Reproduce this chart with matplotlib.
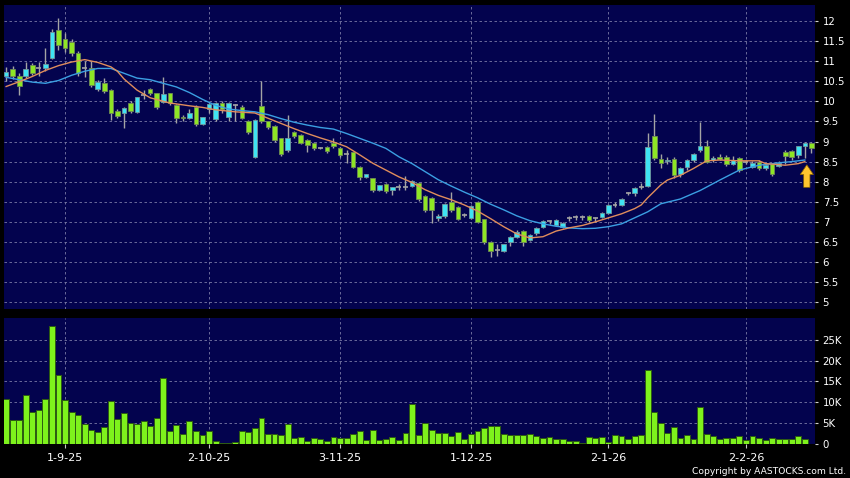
import numpy as np
import matplotlib.pyplot as plt
from matplotlib.ticker import FuncFormatter

# daily OHLC (bar index 0 = first visible session)
opens = [10.63, 10.80, 10.63, 10.63, 10.90, 10.83, 10.83, 11.08, 11.78, 11.55,
         11.48, 11.20, 10.83, 10.83, 10.30, 10.46, 10.28, 9.76, 9.71, 9.96,
         9.73, 10.16, 10.30, 10.20, 9.98, 10.20, 9.90, 9.62, 9.58, 9.86,
         9.43, 9.80, 9.56, 9.96, 9.60, 9.90, 9.86, 9.50, 8.61, 9.88,
         9.50, 9.38, 9.08, 8.79, 9.23, 9.16, 9.03, 8.96, 8.84, 8.86,
         8.96, 8.84, 8.70, 8.74, 8.36, 8.11, 8.09, 7.79, 7.94, 7.79,
         7.86, 7.86, 7.89, 7.96, 7.64, 7.59, 7.09, 7.14, 7.49, 7.37,
         7.17, 7.09, 7.49, 7.07, 6.49, 6.29, 6.27, 6.49, 6.62, 6.77,
         6.54, 6.72, 6.87, 7.02, 6.92, 6.87, 7.10, 7.12, 7.12, 7.14,
         7.10, 7.12, 7.22, 7.42, 7.42, 7.72, 7.72, 7.86, 7.89, 9.14,
         8.57, 8.51, 8.57, 8.20, 8.37, 8.53, 8.78, 8.89, 8.53, 8.62,
         8.62, 8.45, 8.58, 8.50, 8.37, 8.50, 8.33, 8.43, 8.39, 8.74,
         8.77, 8.66, 8.88, 8.97]
highs = [10.85, 10.88, 10.70, 10.98, 10.95, 10.98, 11.33, 11.81, 12.07, 11.70,
         11.55, 11.25, 11.00, 11.00, 10.52, 10.58, 10.30, 9.80, 9.86, 10.00,
         10.12, 10.28, 10.33, 10.22, 10.60, 10.22, 9.93, 9.66, 9.80, 9.90,
         9.62, 9.95, 9.98, 10.00, 9.98, 9.93, 9.92, 9.53, 9.55, 10.50,
         9.52, 9.40, 9.10, 9.66, 9.26, 9.20, 9.06, 8.98, 8.86, 8.88,
         9.10, 8.86, 8.78, 8.75, 8.38, 8.20, 8.10, 7.93, 7.96, 7.88,
         7.95, 8.15, 8.05, 8.00, 7.66, 7.62, 7.20, 7.46, 7.74, 7.40,
         7.22, 7.42, 7.52, 7.08, 6.52, 6.45, 6.46, 6.64, 6.80, 6.80,
         6.70, 6.88, 7.04, 7.05, 7.06, 7.00, 7.15, 7.18, 7.16, 7.17,
         7.13, 7.24, 7.44, 7.50, 7.60, 7.75, 7.86, 7.98, 9.21, 9.68,
         8.70, 8.62, 8.62, 8.36, 8.56, 8.72, 9.49, 9.03, 8.64, 8.70,
         8.66, 8.65, 8.62, 8.55, 8.52, 8.55, 8.45, 8.46, 8.52, 8.78,
         8.80, 8.90, 8.99, 8.99]
lows = [10.50, 10.55, 10.16, 10.58, 10.65, 10.62, 10.75, 11.05, 11.28, 11.22,
        11.12, 10.62, 10.60, 10.35, 10.25, 10.20, 9.53, 9.58, 9.33, 9.70,
        9.70, 10.05, 10.15, 9.80, 9.95, 9.90, 9.45, 9.52, 9.55, 9.38,
        9.40, 9.72, 9.50, 9.70, 9.52, 9.52, 9.55, 9.20, 8.60, 9.45,
        9.30, 9.00, 8.65, 8.75, 9.10, 8.93, 8.75, 8.80, 8.82, 8.72,
        8.85, 8.62, 8.46, 8.33, 8.05, 8.08, 7.75, 7.76, 7.72, 7.68,
        7.80, 7.80, 7.86, 7.52, 7.25, 6.98, 7.02, 7.10, 7.25, 7.05,
        7.12, 7.06, 6.98, 6.45, 6.12, 6.15, 6.25, 6.40, 6.60, 6.40,
        6.52, 6.68, 6.85, 6.95, 6.90, 6.85, 7.02, 7.05, 7.04, 7.00,
        7.00, 7.10, 7.20, 7.38, 7.40, 7.68, 7.65, 7.82, 7.87, 8.55,
        8.35, 8.45, 8.08, 8.12, 8.30, 8.50, 8.75, 8.46, 8.50, 8.54,
        8.40, 8.42, 8.25, 8.45, 8.34, 8.30, 8.30, 8.14, 8.36, 8.45,
        8.55, 8.60, 8.58, 8.72]
closes = [10.74, 10.63, 10.38, 10.80, 10.70, 10.83, 10.92, 11.73, 11.40, 11.33,
          11.20, 10.70, 10.83, 10.40, 10.48, 10.26, 9.71, 9.63, 9.83, 9.76,
          10.10, 10.16, 10.20, 9.86, 10.18, 9.95, 9.58, 9.58, 9.70, 9.43,
          9.60, 9.93, 9.96, 9.80, 9.96, 9.90, 9.58, 9.23, 9.53, 9.50,
          9.36, 9.03, 8.69, 9.10, 9.13, 8.96, 8.91, 8.84, 8.84, 8.76,
          8.88, 8.66, 8.70, 8.36, 8.11, 8.18, 7.79, 7.91, 7.76, 7.86,
          7.86, 7.86, 8.01, 7.56, 7.29, 7.29, 7.14, 7.44, 7.29, 7.07,
          7.17, 7.39, 7.00, 6.49, 6.27, 6.29, 6.44, 6.62, 6.74, 6.49,
          6.67, 6.84, 7.02, 7.02, 7.04, 6.97, 7.10, 7.12, 7.12, 7.04,
          7.10, 7.22, 7.42, 7.42, 7.58, 7.72, 7.84, 7.86, 8.86, 8.58,
          8.46, 8.55, 8.16, 8.33, 8.53, 8.68, 8.89, 8.49, 8.60, 8.57,
          8.44, 8.55, 8.29, 8.50, 8.47, 8.33, 8.41, 8.19, 8.47, 8.64,
          8.62, 8.88, 8.97, 8.83]

# turnover in thousands (last session has no bar yet)
volume_k = [10.9, 5.7, 5.7, 11.7, 7.7, 8.1, 10.7, 28.4, 16.6, 10.5,
            7.7, 6.9, 4.9, 3.3, 2.8, 4.1, 10.2, 5.9, 7.4, 5.1,
            4.7, 5.4, 4.2, 6.2, 15.7, 3.1, 4.6, 2.5, 5.5, 3.2,
            2.2, 3.1, 0.6, 0.3, 0.3, 0.5, 3.2, 2.8, 3.9, 6.2,
            2.4, 2.3, 2.1, 4.8, 1.4, 1.6, 0.7, 1.5, 1.1, 0.8,
            1.7, 1.4, 1.4, 2.5, 3.1, 0.9, 3.3, 0.9, 1.2, 1.6,
            0.9, 2.7, 9.7, 2.2, 5.1, 3.4, 2.6, 2.7, 1.8, 2.8,
            1.3, 2.3, 3.0, 3.9, 4.3, 4.3, 2.3, 2.1, 2.1, 2.2,
            2.5, 2.0, 1.4, 1.6, 1.3, 1.1, 0.7, 0.6, 0.2, 1.7,
            1.4, 1.7, 0.5, 2.2, 1.9, 1.3, 1.9, 2.2, 17.8, 7.7,
            5.0, 2.6, 4.1, 1.4, 2.2, 1.2, 8.9, 2.5, 2.0, 1.1,
            1.5, 1.5, 1.9, 1.0, 1.8, 1.5, 1.0, 1.5, 1.1, 1.1,
            1.2, 1.9, 1.2]

# moving averages as drawn on the chart
ma_short_x = [0, 2, 4, 6, 8, 10, 12, 14, 16, 17, 18, 20, 22, 25, 28, 30, 32, 35,
              38, 40, 42, 44, 46, 48, 50, 52, 54, 56, 58, 60, 62, 64, 66, 68, 70,
              72, 74, 76, 78, 80, 82, 84, 86, 88, 90, 92, 94, 96, 97, 98, 100, 101,
              103, 105, 107, 109, 112, 115, 116, 119, 121, 122]
ma_short = [10.37, 10.49, 10.62, 10.77, 10.89, 10.98, 11.04, 10.97, 10.86, 10.75,
            10.56, 10.28, 10.09, 9.96, 9.89, 9.85, 9.79, 9.74, 9.71, 9.58,
            9.45, 9.32, 9.20, 9.09, 8.99, 8.87, 8.67, 8.46, 8.29, 8.12,
            7.98, 7.80, 7.66, 7.55, 7.42, 7.27, 7.08, 6.88, 6.70, 6.60,
            6.63, 6.77, 6.85, 6.91, 7.00, 7.10, 7.20, 7.33, 7.42, 7.60,
            7.92, 8.04, 8.16, 8.33, 8.52, 8.54, 8.52, 8.52, 8.45, 8.41,
            8.45, 8.50]
ma_long_x = [0, 2, 4, 6, 8, 10, 12, 14, 16, 18, 20, 22, 24, 26, 28, 30, 32, 34,
             36, 38, 40, 42, 44, 46, 48, 50, 52, 54, 56, 58, 60, 62, 64, 66, 68,
             70, 72, 74, 76, 78, 80, 82, 84, 86, 88, 90, 92, 94, 96, 98, 100, 103,
             106, 109, 112, 115, 118, 120, 122]
ma_long = [10.60, 10.54, 10.48, 10.45, 10.52, 10.65, 10.75, 10.82, 10.82, 10.70,
           10.58, 10.54, 10.45, 10.36, 10.22, 10.05, 9.90, 9.81, 9.77, 9.74,
           9.67, 9.57, 9.48, 9.41, 9.35, 9.31, 9.20, 9.08, 8.96, 8.83,
           8.62, 8.45, 8.25, 8.05, 7.89, 7.74, 7.60, 7.44, 7.30, 7.15,
           7.03, 6.95, 6.89, 6.85, 6.83, 6.84, 6.88, 6.95, 7.10, 7.25,
           7.45, 7.57, 7.78, 8.04, 8.29, 8.41, 8.47, 8.50, 8.54]

tick_idx = [9, 31, 51, 71, 92, 113]
tick_labels = ['1-9-25', '2-10-25', '3-11-25', '1-12-25', '2-1-26', '2-2-26']

NAVY = '#03034e'
GRID = '#7a7aa6'
UP = '#3fe3f3'
DOWN = '#8ee625'

o = np.array(opens)
h = np.array(highs)
l = np.array(lows)
c = np.array(closes)
x = np.arange(len(o))

fig = plt.figure(figsize=(8.5, 4.78), dpi=100, facecolor='black')
ax = fig.add_axes([3.5 / 850, 1 - 309 / 478, 811.5 / 850, 304 / 478])
axv = fig.add_axes([3.5 / 850, 1 - 444 / 478, 811.5 / 850, 126 / 478])

for a in (ax, axv):
    a.set_facecolor(NAVY)
    for s in a.spines.values():
        s.set_visible(False)
    a.set_xlim(-0.4, 123.55)
    a.set_xticks(tick_idx)
    a.grid(True, ls=(0, (3, 3)), color=GRID, lw=0.6)
    a.set_axisbelow(True)
    a.yaxis.tick_right()
    a.tick_params(axis='y', colors='#d0d0d0', labelcolor='white', length=2.5,
                  width=0.8, pad=3, labelsize=7.3)

# candles
ax.vlines(x, l, h, color='#a4a4a4', lw=1, zorder=2)
up = c > o
down = c < o
flat = c == o
ax.bar(x[up], (c - o)[up], bottom=o[up], width=0.7, color=UP,
       edgecolor='#6f9a9e', lw=0.6, zorder=3)
ax.bar(x[down], (o - c)[down], bottom=c[down], width=0.7, color=DOWN,
       edgecolor='#6f8a55', lw=0.6, zorder=3)
ax.hlines(c[flat], x[flat] - 0.38, x[flat] + 0.38, color='#a4a4a4', lw=1.2, zorder=3)

ax.plot(ma_long_x, ma_long, color='#3b9fe2', lw=1, zorder=4)
ax.plot(ma_short_x, ma_short, color='#e08d5c', lw=1, zorder=4)

ax.annotate('', xy=(122.3, 8.42), xytext=(122.3, 7.86),
            arrowprops=dict(arrowstyle='simple,head_length=0.7,head_width=0.95,tail_width=0.45',
                            fc='#ffc52e', ec='#8a6400', lw=0.5, mutation_scale=10,
                            shrinkA=0, shrinkB=0), zorder=5)

ax.set_ylim(4.83, 12.4)
ax.set_yticks(np.arange(5, 12.01, 0.5))
ax.yaxis.set_major_formatter(FuncFormatter(lambda v, p: f'{v:g}'))
ax.tick_params(axis='x', length=0, labelbottom=False)

# volume
axv.bar(np.arange(len(volume_k)), volume_k, width=0.9, color='#7ef21c',
        edgecolor='#2e5c12', lw=0.7, zorder=3)
axv.set_ylim(0, 30.2)
axv.set_yticks(np.arange(0, 26, 5))
axv.yaxis.set_major_formatter(FuncFormatter(lambda v, p: '0' if v == 0 else f'{v:g}K'))
axv.set_xticklabels(tick_labels)
axv.tick_params(axis='x', colors='#c8c8c8', labelcolor='white', length=3,
                width=0.8, pad=3.5, labelsize=8)

fig.text(846 / 850, 1 - 471 / 478, 'Copyright by AASTOCKS.com Ltd.', color='white',
         fontsize=6.6, ha='right', va='center')

fig.savefig('out.png', dpi=100, facecolor='black')
